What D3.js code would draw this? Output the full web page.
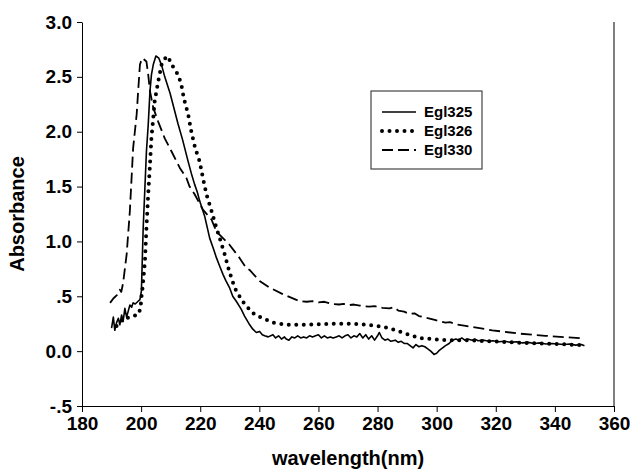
<!doctype html>
<html>
<head>
<meta charset="utf-8">
<script src="https://d3js.org/d3.v7.min.js"></script>
<style>
  body { margin: 0; background: #fff; }
  svg { display: block; font-family: "Liberation Sans", Arial, sans-serif; font-weight: bold; }
  .axis text { font-size: 19px; font-weight: bold; fill: #000; }
  .axis line, .axis path { stroke: #000; stroke-width: 1; }
</style>
</head>
<body>
<svg id="chart" width="633" height="470"></svg>
<script>
// ---- data ----
const xTicks = [180, 200, 220, 240, 260, 280, 300, 320, 340, 360];
const yTicks = [-0.5, 0, 0.5, 1.0, 1.5, 2.0, 2.5, 3.0];
const yTickLabels = ["-.5", "0.0", ".5", "1.0", "1.5", "2.0", "2.5", "3.0"];
const seriesNames = ["Egl325", "Egl326", "Egl330"];

const egl325Nm = [190.0, 190.6, 191.1, 191.7, 192.3, 192.8, 193.4, 193.9, 194.5, 195.1, 195.6, 196.2, 196.8, 197.3, 198.0, 199.0, 199.6, 200.1,
  200.7, 201.3, 201.8, 202.4, 203.0, 203.5, 204.1, 205.0, 206.0, 207.0, 208.0, 209.8, 212.5, 214.0, 215.9, 217.0, 218.1, 219.0, 219.8,
  220.9, 221.5, 223.2, 224.5, 225.5, 226.5, 227.7, 228.7, 229.9, 231.0, 232.2, 233.9, 235.0, 236.5, 237.8, 239.0, 240.1, 241.0, 241.8,
  243, 244.6, 245.5, 246.5, 247.5, 248.5, 249.1, 250, 251, 252, 253, 254, 255, 256, 257, 258, 259, 260, 261, 262, 263, 264, 265, 266,
  267, 268, 269, 270, 271, 272, 273, 274, 275, 276, 277, 278, 279, 280, 280.6, 281.5, 282.5, 283.5, 284.5, 286, 287, 288, 289, 290,
  291, 292, 293, 294, 295, 296, 297, 298, 299.1, 300, 301, 302, 303, 304.2, 305.3, 306.5, 307.5, 308.5, 309.5, 310.5, 312, 313, 314,
  316, 317.7, 319, 321, 323, 325, 327, 329, 331, 333, 335, 337, 339, 341, 343, 345, 347, 349, 350];
const egl325Abs = [0.21, 0.31, 0.19, 0.26, 0.30, 0.24, 0.33, 0.27, 0.39, 0.31, 0.36, 0.42, 0.40, 0.44, 0.43, 0.455, 0.47, 0.55,
  1.12, 1.50, 1.82, 2.06, 2.37, 2.52, 2.61, 2.69, 2.67, 2.60, 2.50, 2.35, 2.07, 1.93, 1.73, 1.62, 1.52, 1.45, 1.37,
  1.28, 1.23, 1.03, 0.93, 0.85, 0.78, 0.70, 0.64, 0.58, 0.50, 0.455, 0.38, 0.32, 0.25, 0.20, 0.17, 0.18, 0.15, 0.14,
  0.13, 0.15, 0.12, 0.14, 0.11, 0.13, 0.11, 0.10, 0.13, 0.12, 0.14, 0.12, 0.13, 0.12, 0.14, 0.13, 0.14, 0.15, 0.12, 0.14, 0.12, 0.13, 0.12, 0.13,
  0.14, 0.12, 0.14, 0.15, 0.12, 0.14, 0.13, 0.16, 0.12, 0.15, 0.11, 0.14, 0.10, 0.14, 0.17, 0.12, 0.10, 0.11, 0.09, 0.10, 0.08, 0.09, 0.07, 0.07,
  0.05, 0.03, 0.06, 0.04, 0.05, 0.04, 0.02, 0.00, -0.03, -0.02, 0.01, 0.03, 0.05, 0.07, 0.10, 0.11, 0.10, 0.12, 0.10, 0.11, 0.10, 0.11, 0.095,
  0.10, 0.09, 0.095, 0.085, 0.09, 0.08, 0.085, 0.075, 0.08, 0.07, 0.075, 0.065, 0.07, 0.065, 0.06, 0.065, 0.055, 0.06, 0.05];

const egl326Nm = [191.7, 193, 194, 195.1, 196.8, 199, 199.8, 200.1, 200.5, 201.3, 201.8, 202.4, 203.0, 203.5, 203.8, 204.6, 205.8, 206.9,
  208.6, 210, 211, 212.5, 213.6, 214.5, 215.9, 217, 218.3, 219.8, 220.9, 222.1, 223.8, 225.5, 226.6, 228.3, 229.9, 230.8, 231.6, 233.3,
  235, 236.7, 238.5, 241.2, 244.6, 249.1, 255, 260, 265, 270, 275, 279.4, 284, 287.3, 290.7, 294.1, 298.6, 303.1, 310, 318, 329, 340, 350];
const egl326Abs = [0.23, 0.26, 0.30, 0.30, 0.32, 0.33, 0.39, 0.49, 0.58, 0.82, 1.12, 1.43, 1.70, 1.95, 2.03, 2.28, 2.46, 2.61,
  2.69, 2.64, 2.58, 2.52, 2.43, 2.30, 2.16, 2.00, 1.85, 1.73, 1.58, 1.43, 1.28, 1.12, 1.03, 0.88, 0.72, 0.65, 0.58, 0.50,
  0.43, 0.38, 0.33, 0.30, 0.26, 0.24, 0.24, 0.245, 0.25, 0.25, 0.245, 0.23, 0.21, 0.18, 0.15, 0.12, 0.11, 0.10, 0.10, 0.09, 0.075, 0.065, 0.055];

const egl330Nm = [189.5, 190.6, 191.8, 192.8, 193.3, 193.9, 195.1, 196.2, 197.3, 198.5, 199.0, 199.6, 200.3, 200.9, 201.8, 202.4, 203.0,
  204.1, 205.8, 208.0, 210.3, 213.1, 215.3, 216.4, 218.1, 220.9, 223.8, 225.5, 229.9, 233.3, 235.5, 236.7, 240.1, 243.4, 247.9, 253.6,
  256, 258, 260, 262, 264.8, 267, 268.5, 270.4, 272, 274, 277.2, 279, 281.7, 284, 285.5, 287, 289, 290.7, 292.5, 294, 296.3, 298, 300,
  301.5, 303, 304.5, 306.5, 309.8, 318.8, 327.8, 336.8, 350];
const egl330Abs = [0.44, 0.48, 0.51, 0.56, 0.54, 0.62, 0.88, 1.28, 1.85, 2.16, 2.37, 2.61, 2.67, 2.66, 2.64, 2.52, 2.37,
  2.22, 2.09, 1.94, 1.82, 1.67, 1.58, 1.50, 1.43, 1.29, 1.20, 1.09, 0.97, 0.85, 0.76, 0.74, 0.64, 0.58, 0.52, 0.455,
  0.45, 0.455, 0.445, 0.45, 0.43, 0.425, 0.43, 0.42, 0.425, 0.415, 0.405, 0.41, 0.395, 0.39, 0.40, 0.37, 0.36, 0.34, 0.345, 0.32, 0.305, 0.295, 0.28,
  0.27, 0.26, 0.265, 0.245, 0.23, 0.19, 0.16, 0.14, 0.115];

const series = [
  { name: seriesNames[0], nm: egl325Nm, abs: egl325Abs, width: 1.6, dash: null, cap: "butt" },
  { name: seriesNames[1], nm: egl326Nm, abs: egl326Abs, width: 4, dash: "0,7.5", cap: "round" },
  { name: seriesNames[2], nm: egl330Nm, abs: egl330Abs, width: 1.8, dash: "11,5", cap: "butt" },
];

// ---- layout ----
const plotL = 82, plotR = 614, plotT = 22, plotB = 406;
const svg = d3.select("#chart");

const x = d3.scaleLinear().domain([180, 360]).range([plotL, plotR]);
const y = d3.scaleLinear().domain([-0.5, 3.0]).range([plotB, plotT]);

// right frame line
svg.append("line")
  .attr("x1", plotR).attr("x2", plotR).attr("y1", plotT).attr("y2", plotB)
  .attr("stroke", "#555").attr("stroke-width", 1.5);

svg.append("g").attr("class", "axis")
  .attr("transform", `translate(0,${plotB})`)
  .call(d3.axisBottom(x).tickValues(xTicks).tickFormat(d3.format("d")).tickSizeInner(6).tickSizeOuter(0).tickPadding(5));

svg.append("g").attr("class", "axis")
  .attr("transform", `translate(${plotL},0)`)
  .call(d3.axisLeft(y).tickValues(yTicks).tickFormat((d, i) => yTickLabels[i]).tickSizeInner(5).tickSizeOuter(0).tickPadding(5));

// axis titles
svg.append("text")
  .attr("x", (plotL + plotR) / 2).attr("y", 465)
  .attr("text-anchor", "middle").attr("font-size", 20)
  .text("wavelength(nm)");

svg.append("text")
  .attr("transform", `translate(24,${(plotT + plotB) / 2}) rotate(-90)`)
  .attr("text-anchor", "middle").attr("font-size", 20)
  .text("Absorbance");

// curves
const line = d3.line().x(d => x(d[0])).y(d => y(d[1]));
series.forEach(s => {
  svg.append("path")
    .datum(s.nm.map((v, i) => [v, s.abs[i]]))
    .attr("fill", "none").attr("stroke", "#000")
    .attr("stroke-width", s.width)
    .attr("stroke-linecap", s.cap)
    .attr("stroke-linejoin", "round")
    .attr("stroke-dasharray", s.dash)
    .attr("d", line);
});

// legend
const lg = svg.append("g");
lg.append("rect")
  .attr("x", 371).attr("y", 91).attr("width", 111).attr("height", 78)
  .attr("fill", "#fff").attr("stroke", "#444").attr("stroke-width", 1.2);
series.forEach((s, i) => {
  const ly = 112 + i * 19;
  lg.append("line")
    .attr("x1", 382).attr("x2", 416).attr("y1", ly).attr("y2", ly)
    .attr("stroke", "#000").attr("stroke-width", s.width)
    .attr("stroke-linecap", s.cap).attr("stroke-dasharray", s.dash);
  lg.append("text")
    .attr("x", 424).attr("y", ly + 5)
    .attr("font-size", 15)
    .text(s.name);
});
</script>
</body>
</html>
